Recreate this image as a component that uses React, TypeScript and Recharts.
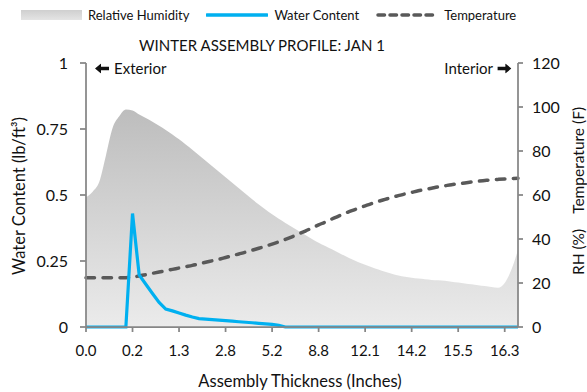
import React from 'react';
import { ComposedChart, Area, Line, XAxis, YAxis } from 'recharts';

// tick labels along the wall section, one every 7 nodes
const thicknessLabels = ['0.0', '0.2', '1.3', '2.8', '5.2', '8.8', '12.1', '14.2', '15.5', '16.3'];
const labelEvery = 7;

// relative humidity (%), right axis
const relativeHumidity = [
    59, 61.5, 66, 78, 90.5, 95.8, 98.9, 98.4, 96.6, 95, 93.3,
    91.5, 89.6, 87.5, 85.3, 83, 80.6, 78.1, 75.6, 73.1, 70.6, 68.1,
    65.6, 63.1, 60.6, 58.1, 55.7, 53.4, 51.2, 49.2, 47.3, 45.4, 43.6,
    41.8, 40, 38.3, 36.8, 35.3, 33.8, 32.3, 30.8, 29.4, 28.3, 27.2,
    26.1, 25.1, 24.2, 23.4, 22.8, 22.4, 22, 21.7, 21.4, 21.2, 21,
    20.6, 20.2, 19.8, 19.4, 19, 18.6, 18.2, 17.8, 20, 26, 35,
];

// temperature (F), right axis
const temperature = [
    22.4, 22.4, 22.4, 22.4, 22.4, 22.4, 22.4, 22.7, 23.2, 23.8, 24.4,
    25, 25.6, 26.2, 26.8, 27.4, 28, 28.7, 29.4, 30.1, 30.8, 31.6,
    32.4, 33.2, 34, 34.9, 35.8, 36.7, 37.7, 38.7, 39.8, 41, 42.3,
    43.6, 45, 46.4, 47.7, 49.1, 50.4, 51.7, 52.9, 54, 55.1, 56.1,
    57.1, 58, 58.9, 59.7, 60.5, 61.2, 61.9, 62.5, 63.1, 63.7, 64.2,
    64.7, 65.1, 65.5, 65.9, 66.3, 66.6, 66.9, 67.1, 67.3, 67.5, 67.6,
];

// water content (lb/ft3), left axis
const waterContent = [
    0, 0, 0, 0, 0, 0, 0, 0.43, 0.197, 0.162, 0.127,
    0.093, 0.068, 0.061, 0.053, 0.045, 0.038, 0.032, 0.03, 0.028, 0.026, 0.024,
    0.022, 0.02, 0.018, 0.016, 0.014, 0.012, 0.01, 0.006, 0, 0, 0,
    0, 0, 0, 0, 0, 0, 0, 0, 0, 0, 0,
    0, 0, 0, 0, 0, 0, 0, 0, 0, 0, 0,
    0, 0, 0, 0, 0, 0, 0, 0, 0, 0, 0,
];

const leftTicks = [0, 0.25, 0.5, 0.75, 1];
const rightTicks = [0, 20, 40, 60, 80, 100, 120];

const data = relativeHumidity.map((rh, i) => ({
    i,
    rh,
    temp: temperature[i],
    wc: waterContent[i],
}));
const xTicks = thicknessLabels.map((_, k) => k * labelEvery);

const FONT = 'Lato, "Open Sans", sans-serif';
const AXIS = '#868686';

function Overlay({ x, y, children, size = 15, rotate = 0, anchor = 'center' }: any) {
    const tx = anchor === 'left' ? '0' : anchor === 'right' ? '-100%' : '-50%';
    return (
        <div style={{
            position: 'absolute', left: x, top: y, fontSize: size, whiteSpace: 'nowrap',
            transform: `translate(${tx}, -50%) rotate(${rotate}deg)`, lineHeight: 1, color: '#111',
            display: 'flex', alignItems: 'center',
        }}>
            {children}
        </div>
    );
}

// bold block arrow like the one next to Exterior / Interior
function Arrow({ dir }: { dir: 'left' | 'right' }) {
    return (
        <svg width={14} height={10} style={{ transform: dir === 'right' ? 'scaleX(-1)' : undefined }}>
            <path d="M0,5 L6,0 L6,3.2 L14,3.2 L14,6.8 L6,6.8 L6,10 Z" fill="#111" />
        </svg>
    );
}

export default function App() {
    return (
        <div style={{ position: 'absolute', left: 0, top: 0, width: 587, height: 392, overflow: 'hidden', fontFamily: FONT, background: '#fff' }}>
            <ComposedChart width={587} height={392} data={data} margin={{ top: 63, right: 24, bottom: 35, left: 26 }}>
                <defs>
                    <linearGradient id="rhFill" x1="0" y1="0" x2="0" y2="1">
                        <stop offset="0%" stopColor="#bdbdbd" />
                        <stop offset="100%" stopColor="#ebebeb" />
                    </linearGradient>
                </defs>
                <XAxis
                    dataKey="i" type="number" domain={[0, relativeHumidity.length - 1]} ticks={xTicks}
                    tickFormatter={(v: number) => thicknessLabels[v / labelEvery]}
                    height={30} tickSize={5} tickMargin={13}
                    stroke={AXIS} strokeWidth={1.75}
                    tick={{ fill: '#111', fontSize: 15, fontFamily: FONT }}
                />
                <YAxis
                    yAxisId="left" domain={[0, 1]} ticks={leftTicks} width={60}
                    tickSize={6} tickMargin={12} stroke={AXIS} strokeWidth={1.75}
                    tick={{ fill: '#111', fontSize: 16, fontFamily: FONT }}
                />
                <YAxis
                    yAxisId="right" orientation="right" domain={[0, 120]} ticks={rightTicks} width={45}
                    tickSize={5} tickMargin={9} stroke={AXIS} strokeWidth={1.75}
                    tick={{ fill: '#111', fontSize: 16, fontFamily: FONT, textAnchor: 'start' }}
                />
                <Area
                    yAxisId="right" dataKey="rh" type="monotone" stroke="none"
                    fill="url(#rhFill)" fillOpacity={1} isAnimationActive={false}
                />
                <Line
                    yAxisId="right" dataKey="temp" type="monotone" stroke="#595959" strokeWidth={3.5}
                    strokeDasharray="8.5 8.5" strokeLinecap="round" dot={false} isAnimationActive={false}
                />
                <Line
                    yAxisId="left" dataKey="wc" type="linear" stroke="#00b0f0" strokeWidth={3.2}
                    dot={false} isAnimationActive={false}
                />
            </ComposedChart>

            {/* legend */}
            <div style={{ position: 'absolute', left: 21, top: 6, height: 18, display: 'flex', alignItems: 'center', fontSize: 13, whiteSpace: 'nowrap', color: '#111' }}>
                <svg width={61} height={10} style={{ marginRight: 6 }}>
                    <defs>
                        <linearGradient id="rhSwatch" x1="0" y1="0" x2="0" y2="1">
                            <stop offset="0%" stopColor="#cfcfcf" />
                            <stop offset="100%" stopColor="#e4e4e4" />
                        </linearGradient>
                    </defs>
                    <rect x={0} y={0} width={61} height={10} fill="url(#rhSwatch)" />
                </svg>
                <span style={{ marginRight: 17 }}>Relative Humidity</span>
                <svg width={62} height={6} style={{ marginRight: 6 }}>
                    <line x1={1} y1={3} x2={61} y2={3} stroke="#00b0f0" strokeWidth={3.3} strokeLinecap="round" />
                </svg>
                <span style={{ marginRight: 17 }}>Water Content</span>
                <svg width={63} height={6} style={{ marginRight: 5 }}>
                    <line x1={2} y1={3} x2={61} y2={3} stroke="#595959" strokeWidth={3.5} strokeDasharray="6.5 5.5" strokeLinecap="round" />
                </svg>
                <span>Temperature</span>
            </div>

            <Overlay x={262} y={45} size={15}>WINTER ASSEMBLY PROFILE: JAN 1</Overlay>
            <Overlay x={95} y={68} size={15} anchor="left">
                <Arrow dir="left" /><span style={{ marginLeft: 5 }}>Exterior</span>
            </Overlay>
            <Overlay x={511} y={68} size={15} anchor="right">
                <span style={{ marginRight: 4 }}>Interior</span><Arrow dir="right" />
            </Overlay>
            <Overlay x={19} y={196} size={16.5} rotate={-90}>Water Content (lb/ft³)</Overlay>
            <Overlay x={579} y={191} size={15.5} rotate={-90}>
                <span>RH (%)</span><span style={{ marginLeft: 15 }}>Temperature (F)</span>
            </Overlay>
            <Overlay x={300} y={381} size={16.5}>Assembly Thickness (Inches)</Overlay>
        </div>
    );
}
